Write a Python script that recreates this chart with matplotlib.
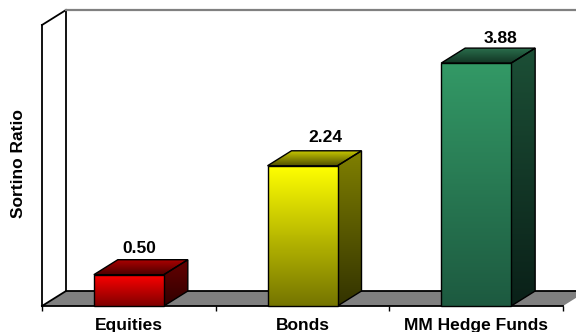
import numpy as np
import matplotlib
matplotlib.use("Agg")
import matplotlib.pyplot as plt
from matplotlib.colors import LinearSegmentedColormap, to_rgb
from matplotlib.patches import Polygon

categories = ["Equities", "Bonds", "MM Hedge Funds"]
values = [0.50, 2.24, 3.88]
value_labels = ["0.50", "2.24", "3.88"]
y_label = "Sortino Ratio"

# Gradient stops, (start, end) for each face of each bar
front_colors = [("#FF0000", "#800000"), ("#FFFF00", "#757500"), ("#339966", "#1D5A40")]
top_colors = [("#B00000", "#4A0000"), ("#C4C400", "#505000"), ("#2A6E4C", "#123524")]
side_colors = [("#660000", "#300000"), ("#808000", "#333300"), ("#1C4F36", "#0A2018")]

W, H = 576, 332
FS = 12.5
plt.rcParams["font.family"] = ["Liberation Sans", "DejaVu Sans"]
fig = plt.figure(figsize=(W / 100, H / 100), dpi=100, facecolor="white")
ax = fig.add_axes([42 / W, 26 / H, 521 / W, 281 / H])
XMAX, YMAX = 3, 281 / 62.6
ax.set_xlim(0, XMAX)
ax.set_ylim(0, YMAX)
ax.patch.set_alpha(0)
for s in ax.spines.values():
    s.set_visible(False)

DX, DY = 24 / (521 / 3), 15 / 62.6
BAR_W = 70 / (521 / 3)
t_line = 1.3

# Floor and walls
ax.add_patch(Polygon([(0, 0), (DX, DY), (XMAX + DX, DY), (XMAX, 0)], closed=True,
                     fc="#808080", ec="none", zorder=1, clip_on=False))
ax.plot([0, XMAX], [0, 0], color="black", lw=t_line, zorder=2, clip_on=False)
ax.plot([DX, XMAX + DX], [DY, DY], color="black", lw=t_line, zorder=2, clip_on=False)
ax.plot([0, DX], [0, DY], color="black", lw=t_line, zorder=2, clip_on=False)
ax.plot([0, 0], [0, YMAX], color="black", lw=t_line, zorder=2, clip_on=False)
ax.plot([DX, DX], [DY, YMAX + DY], color="black", lw=t_line, zorder=2, clip_on=False)
ax.plot([0, DX], [YMAX, YMAX + DY], color="black", lw=t_line, zorder=2, clip_on=False)
ax.plot([DX, XMAX + DX], [YMAX + DY, YMAX + DY], color="#808080", lw=t_line + 0.3,
        zorder=2, clip_on=False)


def face(pts, colors, y0, y1, z):
    cmap = LinearSegmentedColormap.from_list("g", [to_rgb(colors[1]), to_rgb(colors[0])])
    xs = [p[0] for p in pts]
    im = ax.imshow(np.linspace(1, 0, 128).reshape(-1, 1), cmap=cmap, vmin=0, vmax=1,
                   extent=[min(xs), max(xs), y0, y1], aspect="auto", zorder=z,
                   interpolation="bilinear")
    poly = Polygon(pts, closed=True, fc="none", ec="black", lw=1.0, zorder=z + 0.1, clip_on=False)
    ax.add_patch(poly)
    im.set_clip_path(poly)


for i, v in enumerate(values):
    c = i + 0.5
    x0, x1 = c - BAR_W / 2, c + BAR_W / 2
    face([(x0, 0), (x1, 0), (x1, v), (x0, v)], front_colors[i], 0, v, 5)
    face([(x0, v), (x1, v), (x1 + DX, v + DY), (x0 + DX, v + DY)], top_colors[i], v, v + DY, 4)
    face([(x1, 0), (x1 + DX, DY), (x1 + DX, v + DY), (x1, v)], side_colors[i], 0, v + DY, 4)

ax.set_xlim(0, XMAX)
ax.set_ylim(0, YMAX)

# Value labels (pixel offsets from the bar's top back edge)
label_dx = [10.5, 23, 24]
label_dy = [7, 9, 5]
for i, (v, t) in enumerate(zip(values, value_labels)):
    ax.annotate(t, xy=(i + 0.5, v + DY), xytext=(label_dx[i] * 0.72, label_dy[i] * 0.72),
                textcoords="offset points", ha="center", va="baseline",
                fontsize=FS, fontweight="bold", color="black", zorder=10, annotation_clip=False)

# Axes ticks and labels
ax.set_xticks(range(XMAX + 1))
ax.set_xticklabels([])
ax.tick_params(axis="x", which="major", length=3.5, width=1, color="black")
for i, t in enumerate(categories):
    ax.annotate(t, xy=(i + 0.5, 0), xytext=(0, -24 * 0.72), textcoords="offset points",
                ha="center", va="baseline", fontsize=FS, fontweight="bold",
                annotation_clip=False)
ax.set_yticks([])
fig.text(19 / W, 1 - 164 / H, y_label, rotation=90, ha="center", va="center",
         fontsize=FS, fontweight="bold")

fig.savefig("out.png", dpi=100)
